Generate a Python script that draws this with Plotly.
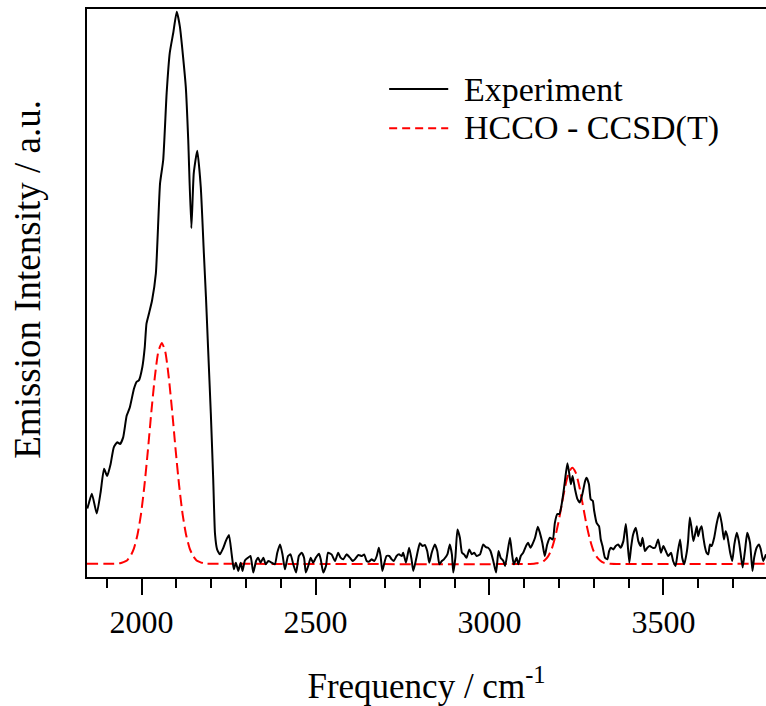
import plotly.graph_objects as go

# Experimental emission spectrum (frequency in cm^-1, intensity in a.u.)
exp_freq = [1844, 1849, 1857, 1871, 1882, 1892, 1901, 1911, 1920, 1930, 1938, 1947, 1957, 1966,
            1978, 1986, 1992, 2002, 2009, 2014, 2021, 2030, 2041, 2053, 2062, 2072, 2081, 2091,
            2101, 2110, 2127, 2134, 2143, 2150, 2160, 2170, 2179, 2185, 2191, 2199, 2206, 2211,
            2217, 2225, 2235, 2242, 2251, 2259, 2265, 2271, 2278, 2285, 2290, 2297, 2306, 2313,
            2321, 2329, 2335, 2342, 2350, 2357, 2364, 2374, 2383, 2390, 2398, 2405, 2412, 2421,
            2428, 2436, 2444, 2452, 2460, 2467, 2472, 2479, 2486, 2493, 2501, 2510, 2515, 2522,
            2530, 2536, 2546, 2556, 2565, 2572, 2580, 2589, 2599, 2607, 2613, 2623, 2633, 2640,
            2647, 2654, 2661, 2669, 2676, 2682, 2687, 2692, 2697, 2704, 2712, 2719, 2725, 2733,
            2740, 2748, 2752, 2760, 2769, 2776, 2781, 2789, 2794, 2800, 2808, 2814, 2821, 2827,
            2834, 2843, 2850, 2856, 2863, 2869, 2879, 2886, 2892, 2896, 2902, 2908, 2915, 2921,
            2927, 2934, 2942, 2949, 2956, 2963, 2973, 2982, 2990, 2996, 3003, 3011, 3019, 3026,
            3032, 3040, 3045, 3051, 3059, 3065, 3070, 3078, 3083, 3090, 3097, 3105, 3111, 3118,
            3124, 3131, 3139, 3145, 3152, 3159, 3166, 3174, 3182, 3188, 3195, 3201, 3206, 3212,
            3217, 3224, 3229, 3234, 3239, 3246, 3253, 3260, 3267, 3275, 3279, 3286, 3291, 3297,
            3301, 3308, 3315, 3320, 3325, 3332, 3339, 3344, 3349, 3356, 3363, 3370, 3377, 3385,
            3392, 3396, 3402, 3407, 3413, 3421, 3428, 3435, 3440, 3447, 3454, 3461, 3469, 3476,
            3485, 3493, 3500, 3507, 3514, 3522, 3528, 3535, 3541, 3548, 3554, 3560, 3567, 3571,
            3576, 3581, 3586, 3591, 3596, 3600, 3605, 3610, 3615, 3619, 3624, 3629, 3634, 3639,
            3646, 3653, 3661, 3668, 3674, 3679, 3684, 3692, 3698, 3704, 3711, 3717, 3723, 3728,
            3735, 3741, 3749, 3756, 3761, 3768, 3775, 3780, 3787, 3795]
exp_int = [10.0, 11.1, 12.7, 9.1, 12.9, 17.2, 15.9, 18.1, 21.1, 22.0, 21.7, 22.9, 26.8, 28.3,
           31.7, 33.0, 33.2, 35.6, 39.2, 43.5, 45.3, 47.7, 52.6, 68.9, 73.1, 85.3, 92.6, 96.2,
           100.0, 97.3, 86.4, 76.8, 60.8, 70.8, 74.8, 68.3, 56.2, 48.3, 39.2, 27.2, 15.0, 5.4,
           2.6, 1.7, 2.9, 4.1, 5.2, 1.7, -1.0, 0.2, -1.3, 0.2, -1.3, 0.6, 1.1, 1.4,
           -1.6, 0.5, 1.1, 0.2, 1.1, -0.1, 0.5, 0.2, -0.1, 2.0, 3.5, 1.7, -1.0, 1.4,
           1.7, -0.1, -1.6, 1.4, 2.0, 1.1, -1.6, -0.4, 1.1, 0.2, 1.1, 1.8, 0.8, -1.6,
           -0.4, 2.0, 1.7, 0.5, 2.0, 1.1, 0.8, 1.7, 1.1, 0.5, 0.8, 1.6, 1.4, 1.7,
           0.5, 0.4, 0.8, 0.5, 1.4, 2.9, 1.4, -1.3, -0.1, 1.4, 1.4, 0.8, 0.5, 1.4,
           1.7, 1.4, 2.0, 0.2, 2.9, 0.8, -1.3, 0.8, 2.3, 3.7, 3.2, 3.4, 2.3, 0.2,
           2.0, 3.5, 2.3, -0.1, 0.5, 0.8, 1.7, 3.5, 1.7, -1.6, 1.1, 6.2, 4.7, 2.0,
           1.7, 1.1, 2.6, 1.7, 2.0, 1.4, 1.7, 3.5, 3.0, 2.9, 2.3, 0.5, -1.6, 2.3,
           1.1, 0.5, -0.4, 1.7, 4.7, 1.7, -0.1, 1.1, -0.1, 1.4, 2.0, 3.2, 3.8, 2.9,
           3.6, 4.7, 6.7, 5.6, 3.8, 1.4, 3.5, 4.7, 4.4, 7.4, 9.0, 9.0, 10.2, 12.6,
           15.0, 18.2, 16.5, 14.4, 15.9, 13.5, 11.7, 11.1, 12.6, 15.0, 15.6, 14.4, 11.7, 11.4,
           9.6, 7.4, 6.8, 4.4, 3.2, 1.1, 0.8, 2.3, 2.9, 2.6, 3.2, 3.5, 2.9, 4.1,
           7.2, 4.7, 0.2, 2.9, 5.3, 6.5, 4.1, 3.2, 4.7, 2.3, 2.9, 3.2, 2.9, 2.9,
           4.4, 2.0, 3.2, 2.3, 1.4, 2.0, 0.5, -0.4, 2.0, 4.4, 1.1, -0.1, 2.0, 4.1,
           8.4, 6.5, 4.1, 5.3, 6.8, 5.0, 6.2, 6.8, 4.7, 3.2, 2.0, 1.7, 3.5, 3.2,
           4.7, 7.2, 9.3, 7.2, 4.4, 5.9, 5.0, 2.0, 0.5, 3.5, 5.6, 4.1, 1.4, -0.7,
           2.6, 5.6, 3.8, -1.3, 1.1, 2.9, 3.5, 2.6, 0.5, 1.7]

# Simulated HCCO - CCSD(T) spectrum
calc_freq = [1843, 1928, 1938, 1948, 1958, 1968, 1978, 1988, 1998, 2008, 2018, 2028, 2038,
             2048, 2058, 2068, 2078, 2088, 2098, 2108, 2118, 2128, 2138, 2148, 2158, 2168,
             2178, 2188, 2198, 2208, 3128, 3138, 3148, 3158, 3168, 3178, 3188, 3198, 3208,
             3218, 3228, 3238, 3248, 3258, 3268, 3278, 3288, 3298, 3308, 3318, 3328, 3338,
             3348, 3795]
calc_int = [0.0, 0.0, 0.1, 0.3, 0.6, 1.4, 2.8, 5.2, 8.9, 14.1, 20.5, 27.5, 33.8,
            38.4, 40.0, 38.4, 33.8, 27.5, 20.5, 14.1, 8.9, 5.2, 2.8, 1.4, 0.6, 0.3,
            0.1, 0.0, 0.0, 0.0, 0.0, 0.1, 0.2, 0.6, 1.3, 2.5, 4.6, 7.4, 10.8,
            14.1, 16.5, 17.4, 16.5, 14.1, 10.8, 7.4, 4.6, 2.5, 1.3, 0.6, 0.2, 0.1,
            0.0, 0.0]

x_ticks = [2000, 2500, 3000, 3500]
legend_names = ["Experiment", "HCCO - CCSD(T)"]
x_title = "Frequency / cm<sup>-1</sup>"
y_title = "Emission Intensity / a.u."

FONT = "Liberation Serif"

fig = go.Figure()
fig.add_trace(go.Scatter(x=calc_freq, y=calc_int, mode="lines", name=legend_names[1],
                         line=dict(color="#ff0000", width=2, dash="11px,5px", shape="spline",
                                   smoothing=0.6),
                         showlegend=False))
fig.add_trace(go.Scatter(x=exp_freq, y=exp_int, mode="lines", name=legend_names[0],
                         line=dict(color="black", width=2, shape="spline", smoothing=0.5),
                         showlegend=False))

# manual legend
leg_x0, leg_x1, leg_tx = 0.445, 0.532, 0.553
leg_y = [0.859, 0.790]
fig.add_shape(type="line", xref="paper", yref="paper", x0=leg_x0, x1=leg_x1,
              y0=leg_y[0], y1=leg_y[0], line=dict(color="black", width=2))
fig.add_shape(type="line", xref="paper", yref="paper", x0=leg_x0, x1=leg_x1,
              y0=leg_y[1], y1=leg_y[1], line=dict(color="#ff0000", width=2, dash="8px,5px"))
for name, yy in zip(legend_names, leg_y):
    fig.add_annotation(xref="paper", yref="paper", x=leg_tx, y=yy, text=name,
                       showarrow=False, xanchor="left", yanchor="middle",
                       font=dict(family=FONT, size=34, color="black"))

# y-axis title as rotated annotation
fig.add_annotation(xref="paper", yref="paper", x=-0.087, y=0.525, text=y_title,
                   textangle=-90, showarrow=False, xanchor="center", yanchor="middle",
                   font=dict(family=FONT, size=37, color="black"))

fig.update_layout(
    width=766, height=706,
    margin=dict(l=87, r=0, t=9, b=129),
    paper_bgcolor="white", plot_bgcolor="white",
    font=dict(family=FONT, size=32, color="black"),
    xaxis=dict(range=[1843, 3795], showline=True, linewidth=2, linecolor="black",
               mirror=True, ticks="outside", ticklen=16, tickwidth=2, tickcolor="black",
               tickvals=x_ticks, showgrid=False, zeroline=False,
               tickfont=dict(family=FONT, size=32),
               minor=dict(dtick=100, tick0=2000, ticks="outside", ticklen=9, tickwidth=2,
                          tickcolor="black", showgrid=False),
               title=dict(text=x_title, font=dict(family=FONT, size=35), standoff=34)),
    yaxis=dict(range=[-2.4, 100.5], showline=True, linewidth=2, linecolor="black",
               mirror=False, ticks="", showticklabels=False, showgrid=False, zeroline=False),
)

fig.write_html("out.html")
